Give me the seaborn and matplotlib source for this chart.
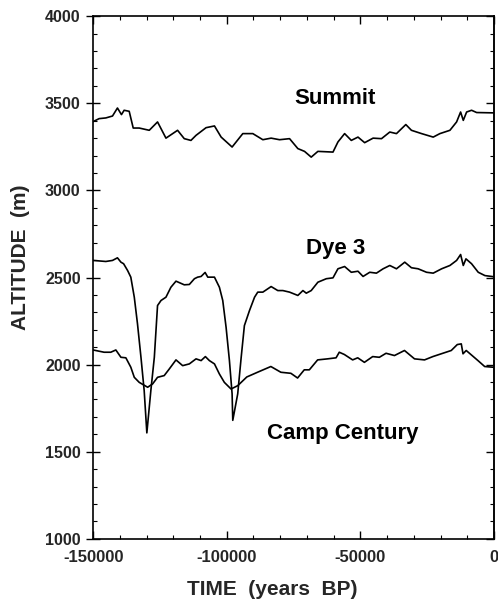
import matplotlib
matplotlib.use("Agg")
import matplotlib.pyplot as plt
import matplotlib.ticker as mticker
import seaborn as sns
import pandas as pd

# values (years BP, altitude in m)
summit_years = [-150000, -147750, -145250, -142750, -140900, -139400, -138400, -136500,
                -135000, -132750, -129000, -125900, -122750, -118400, -115900, -113400,
                -111500, -107750, -104600, -102100, -98000, -94000, -90250, -86500,
                -83400, -80250, -76500, -73400, -70900, -68400, -65900, -60250,
                -58400, -55900, -53400, -50900, -48400, -45250, -42100, -39000,
                -36500, -33000, -30900, -27100, -22750, -20250, -16500, -14000,
                -12500, -11500, -10250, -8400, -6500, 0]
summit_alt = [3395, 3412, 3416, 3427, 3473, 3435, 3460, 3454,
              3358, 3358, 3345, 3393, 3300, 3345, 3297, 3287,
              3316, 3360, 3370, 3306, 3249, 3326, 3326, 3291,
              3300, 3291, 3297, 3240, 3224, 3191, 3224, 3220,
              3278, 3326, 3287, 3306, 3274, 3300, 3297, 3335,
              3326, 3378, 3345, 3326, 3306, 3326, 3345, 3393,
              3450, 3402, 3450, 3460, 3447, 3445]

dye3_years = [-150000, -145250, -142750, -140900, -139600, -138600, -137100, -135900,
              -134600, -133400, -132100, -130900, -129900, -128400, -127100, -125900,
              -124600, -122750, -120900, -119000, -115900, -114000, -112100, -110900,
              -109600, -108100, -107100, -104600, -102750, -101500, -100250, -99000,
              -98000, -97750, -95900, -94600, -93400, -91500, -89600, -88400,
              -86500, -83400, -80900, -79000, -76500, -73400, -71500, -70250,
              -68400, -65900, -62750, -60250, -58400, -55900, -53400, -50900,
              -49000, -46500, -44000, -41500, -39000, -36500, -33400, -30900,
              -28400, -25250, -22750, -19600, -16500, -14000, -12500, -11500,
              -10500, -8400, -5900, -3400, -900, 0]
dye3_alt = [2598, 2592, 2598, 2613, 2588, 2579, 2540, 2502,
            2387, 2234, 2042, 1851, 1608, 1851, 2042, 2339,
            2368, 2387, 2444, 2479, 2458, 2460, 2493, 2502,
            2506, 2529, 2502, 2502, 2444, 2368, 2214, 2023,
            1832, 1680, 1832, 2042, 2224, 2310, 2387, 2416,
            2416, 2448, 2425, 2425, 2416, 2397, 2425, 2410,
            2425, 2473, 2493, 2498, 2550, 2563, 2530, 2536,
            2506, 2530, 2525, 2550, 2569, 2550, 2588, 2556,
            2550, 2530, 2525, 2550, 2569, 2598, 2632, 2569,
            2607, 2579, 2530, 2511, 2506, 2504]

camp_years = [-150000, -145900, -143400, -141500, -139600, -137750, -135900, -134600,
              -132750, -129600, -127750, -125900, -123400, -121500, -119000, -116500,
              -114000, -111500, -109600, -108000, -106500, -104600, -102750, -100900,
              -98400, -95900, -92500, -88500, -83500, -79750, -76000, -73500,
              -71000, -69100, -66000, -62250, -59100, -57900, -56000, -52900,
              -51000, -48500, -45400, -42900, -40400, -37250, -33500, -29750,
              -26000, -22900, -19750, -16000, -13750, -12250, -11600, -10400,
              -6000, -3500, -400, 0]
camp_alt = [2084, 2071, 2071, 2084, 2042, 2039, 1985, 1927,
            1898, 1870, 1889, 1927, 1937, 1975, 2027, 1994,
            2004, 2033, 2023, 2046, 2023, 2004, 1946, 1898,
            1860, 1879, 1929, 1956, 1989, 1956, 1950, 1923,
            1970, 1970, 2027, 2033, 2039, 2071, 2058, 2027,
            2039, 2013, 2046, 2042, 2065, 2052, 2081, 2033,
            2027, 2046, 2062, 2081, 2115, 2119, 2062, 2081,
            2023, 1989, 1985, 1985]

sites = ["Summit", "Dye 3", "Camp Century"]
label_x = [-59600, -59400, -56600]
label_y = [3529, 2667, 1604]

frames = []
for name, xs, ys in zip(sites, [summit_years, dye3_years, camp_years],
                        [summit_alt, dye3_alt, camp_alt]):
    frames.append(pd.DataFrame({"year": xs, "altitude": ys, "site": name}))
df = pd.concat(frames, ignore_index=True)

sns.set_style("ticks")
plt.rcParams['font.family'] = ['Liberation Sans', 'DejaVu Sans']
plt.rcParams['axes.unicode_minus'] = False

fig = plt.figure(figsize=(4.98, 6.0), dpi=100)
ax = fig.add_axes([0.187, 0.102, 0.805, 0.871])

sns.lineplot(data=df, x="year", y="altitude", hue="site", units="site",
             estimator=None, sort=False, palette=["black"] * 3,
             linewidth=1.2, legend=False, ax=ax)

for name, lx, ly in zip(sites, label_x, label_y):
    ax.text(lx, ly, name, ha="center", va="center", fontsize=16,
            fontweight="bold", color="black")

ax.set_xlim(-150000, 0)
ax.set_ylim(1000, 4000)
ax.xaxis.set_major_locator(mticker.MultipleLocator(50000))
ax.xaxis.set_minor_locator(mticker.MultipleLocator(10000))
ax.yaxis.set_major_locator(mticker.MultipleLocator(500))
ax.yaxis.set_minor_locator(mticker.MultipleLocator(100))
ax.xaxis.set_major_formatter(mticker.FormatStrFormatter('%d'))

for side in ["top", "right", "left", "bottom"]:
    ax.spines[side].set_visible(True)
    ax.spines[side].set_linewidth(1.2)
    ax.spines[side].set_color("black")

ax.tick_params(axis="x", which="both", direction="in", top=True, bottom=True, color="black")
ax.tick_params(axis="x", which="major", length=6, width=1.0, labelsize=12, pad=8)
ax.tick_params(axis="x", which="minor", length=3, width=0.8)
ax.tick_params(axis="y", which="both", left=True, right=False, color="black")
ax.tick_params(axis="y", which="major", direction="inout", length=10, width=1.0,
               labelsize=11.5, pad=4)
ax.tick_params(axis="y", which="minor", direction="in", length=3, width=0.8)
for lab in ax.get_xticklabels() + ax.get_yticklabels():
    lab.set_fontweight("bold")

# right side: inward ticks only, no labels
sec = ax.secondary_yaxis("right")
sec.yaxis.set_major_locator(mticker.MultipleLocator(500))
sec.yaxis.set_minor_locator(mticker.MultipleLocator(100))
sec.tick_params(which="both", direction="in", labelright=False, color="black")
sec.tick_params(which="major", length=6, width=1.0)
sec.tick_params(which="minor", length=3, width=0.8)
sec.spines["right"].set_linewidth(1.2)

ax.set_xlabel("TIME  (years  BP)", fontsize=15, fontweight="bold")
ax.set_ylabel("ALTITUDE  (m)", fontsize=15, fontweight="bold")
ax.xaxis.set_label_coords(0.446, -0.078)
ax.yaxis.set_label_coords(-0.158, 0.539)

fig.savefig("out.png", dpi=100)
